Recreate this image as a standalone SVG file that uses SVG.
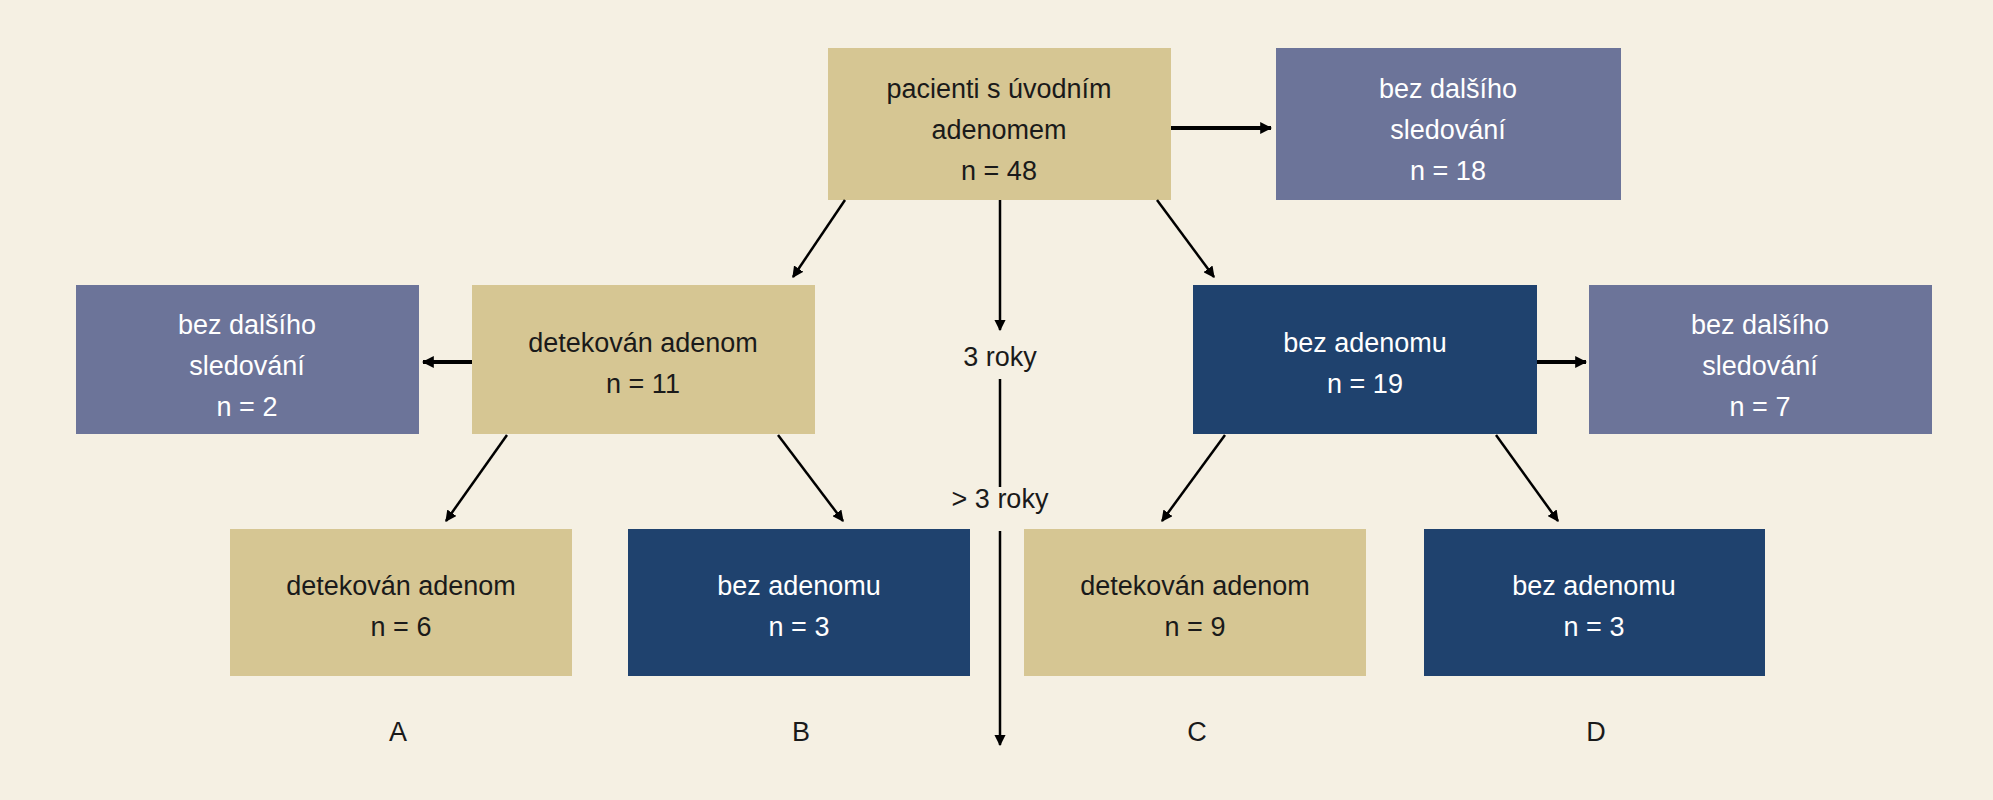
<svg xmlns="http://www.w3.org/2000/svg" width="1993" height="800" viewBox="0 0 1993 800">
<defs>
<marker id="ah" viewBox="0 0 10 10" refX="9" refY="5" markerWidth="4.5" markerHeight="4.5" orient="auto" markerUnits="strokeWidth"><path d="M0,0 L10,5 L0,10 z" fill="#000"/></marker>
<marker id="ahb" viewBox="0 0 10 10" refX="9" refY="5" markerWidth="3" markerHeight="3" orient="auto" markerUnits="strokeWidth"><path d="M0,0 L10,5 L0,10 z" fill="#000"/></marker>
</defs>
<style>
.tan{fill:#d6c693}.sl{fill:#6c7499}.nv{fill:#1f426e}
text{font-family:"Liberation Sans",Arial,sans-serif;font-size:27px;text-anchor:middle}
.d{fill:#1a1a1a}.w{fill:#fff}
.c line{stroke:#000;stroke-width:2.5;marker-end:url(#ah)}
.c line.b{stroke-width:4;marker-end:url(#ahb)}
</style>
<rect width="1993" height="800" fill="#f5f0e3"/>
<g id="n0"><rect class="tan" x="828" y="48" width="343" height="152"/><text class="d" x="999" y="98">pacienti s úvodním</text><text class="d" x="999" y="139">adenomem</text><text class="d" x="999" y="180">n = 48</text></g>
<g id="n1"><rect class="sl" x="1276" y="48" width="345" height="152"/><text class="w" x="1448" y="98">bez dalšího</text><text class="w" x="1448" y="139">sledování</text><text class="w" x="1448" y="180">n = 18</text></g>
<g id="n2"><rect class="sl" x="76" y="285" width="343" height="149"/><text class="w" x="247" y="334">bez dalšího</text><text class="w" x="247" y="375">sledování</text><text class="w" x="247" y="416">n = 2</text></g>
<g id="n3"><rect class="tan" x="472" y="285" width="343" height="149"/><text class="d" x="643" y="352">detekován adenom</text><text class="d" x="643" y="393">n = 11</text></g>
<g id="n4"><rect class="nv" x="1193" y="285" width="344" height="149"/><text class="w" x="1365" y="352">bez adenomu</text><text class="w" x="1365" y="393">n = 19</text></g>
<g id="n5"><rect class="sl" x="1589" y="285" width="343" height="149"/><text class="w" x="1760" y="334">bez dalšího</text><text class="w" x="1760" y="375">sledování</text><text class="w" x="1760" y="416">n = 7</text></g>
<g id="n6"><rect class="tan" x="230" y="529" width="342" height="147"/><text class="d" x="401" y="595">detekován adenom</text><text class="d" x="401" y="636">n = 6</text></g>
<g id="n7"><rect class="nv" x="628" y="529" width="342" height="147"/><text class="w" x="799" y="595">bez adenomu</text><text class="w" x="799" y="636">n = 3</text></g>
<g id="n8"><rect class="tan" x="1024" y="529" width="342" height="147"/><text class="d" x="1195" y="595">detekován adenom</text><text class="d" x="1195" y="636">n = 9</text></g>
<g id="n9"><rect class="nv" x="1424" y="529" width="341" height="147"/><text class="w" x="1594" y="595">bez adenomu</text><text class="w" x="1594" y="636">n = 3</text></g>
<g id="labels">
<text class="d" x="1000" y="366">3 roky</text>
<text class="d" x="1000" y="508">&gt; 3 roky</text>
<text class="d" x="398" y="741">A</text><text class="d" x="801" y="741">B</text><text class="d" x="1197" y="741">C</text><text class="d" x="1596" y="741">D</text>
</g>
<g id="connectors" class="c">
<line class="b" x1="1171" y1="128" x2="1271" y2="128"/>
<line class="b" x1="472" y1="362" x2="423" y2="362"/>
<line class="b" x1="1537" y1="362" x2="1586" y2="362"/>
<line x1="1000" y1="200" x2="1000" y2="330"/>
<line x1="1000" y1="379" x2="1000" y2="487" style="marker-end:none"/>
<line x1="1000" y1="531" x2="1000" y2="745"/>
<line x1="845" y1="200" x2="793" y2="277"/>
<line x1="1157" y1="200" x2="1214" y2="277"/>
<line x1="507" y1="435" x2="446" y2="521"/>
<line x1="778" y1="435" x2="843" y2="521"/>
<line x1="1225" y1="435" x2="1162" y2="521"/>
<line x1="1496" y1="435" x2="1558" y2="521"/>
</g>
</svg>
